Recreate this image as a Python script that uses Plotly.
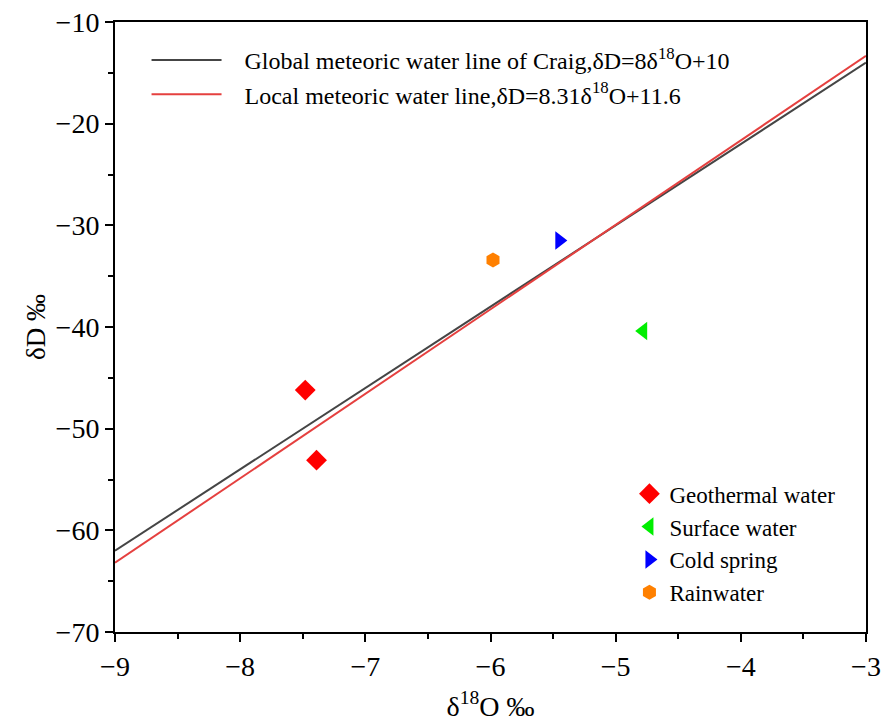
import plotly.graph_objects as go

# Data
line_x = [-9, -3]
gmwl_slope, gmwl_int = 8.0, 10.0
lmwl_slope, lmwl_int = 8.31, 11.6

geo_x = [-7.48, -7.39]
geo_y = [-46.2, -53.1]
surf_x = [-4.78]
surf_y = [-40.4]
cold_x = [-5.45]
cold_y = [-31.5]
rain_x = [-5.98]
rain_y = [-33.4]

FONT = "Liberation Serif"
PAD = "\u00a0" * 3

fig = go.Figure()
fig.add_trace(go.Scatter(
    x=line_x, y=[gmwl_slope * v + gmwl_int for v in line_x], mode="lines",
    line=dict(color="#454545", width=2),
    name=PAD + "Global meteoric water line of Craig,δD=8δ<sup>18</sup>O+10", legend="legend"))
fig.add_trace(go.Scatter(
    x=line_x, y=[lmwl_slope * v + lmwl_int for v in line_x], mode="lines",
    line=dict(color="#e5403f", width=2),
    name=PAD + "Local meteoric water line,δD=8.31δ<sup>18</sup>O+11.6", legend="legend"))

fig.add_trace(go.Scatter(x=geo_x, y=geo_y, mode="markers", name="Geothermal water",
                         marker=dict(symbol="diamond", color="#ff0000", size=16), legend="legend2"))
fig.add_trace(go.Scatter(x=surf_x, y=surf_y, mode="markers", name="Surface water",
                         marker=dict(symbol="triangle-left", color="#00ee00", size=16), legend="legend2"))
fig.add_trace(go.Scatter(x=cold_x, y=cold_y, mode="markers", name="Cold spring",
                         marker=dict(symbol="triangle-right", color="#0000ff", size=16), legend="legend2"))
fig.add_trace(go.Scatter(x=rain_x, y=rain_y, mode="markers", name="Rainwater",
                         marker=dict(symbol="hexagon", color="#ff8000", size=15), legend="legend2"))

axis_common = dict(
    showline=True, linecolor="black", linewidth=2, mirror=True,
    ticks="outside", ticklen=8, tickwidth=2, tickcolor="black",
    showgrid=False, zeroline=False, automargin=False,
    tickfont=dict(family=FONT, size=28, color="black"),
)
fig.update_xaxes(range=[-9, -3], dtick=1, tick0=-9,
                 minor=dict(ticks="outside", ticklen=5, tickwidth=2, tickcolor="black", dtick=0.5, showgrid=False),
                 title=dict(text="δ<sup>18</sup>O ‰", font=dict(family=FONT, size=28, color="black"), standoff=16),
                 **axis_common)
fig.update_yaxes(range=[-70, -10], dtick=10, tick0=-70,
                 minor=dict(ticks="outside", ticklen=5, tickwidth=2, tickcolor="black", dtick=5, showgrid=False),
                 title=dict(text="δD ‰", font=dict(family=FONT, size=27, color="black"), standoff=2),
                 **axis_common)

fig.update_layout(
    width=882, height=724,
    margin=dict(l=115, r=16, t=22, b=92),
    plot_bgcolor="white", paper_bgcolor="white",
    legend=dict(x=0.042, y=0.974, xanchor="left", yanchor="top", bgcolor="rgba(0,0,0,0)",
                font=dict(family=FONT, size=24, color="black"), itemwidth=70,
                tracegroupgap=0),
    legend2=dict(x=0.685, y=0.262, xanchor="left", yanchor="top", bgcolor="rgba(0,0,0,0)",
                 font=dict(family=FONT, size=23, color="black")),
)

fig.write_html("out.html")
